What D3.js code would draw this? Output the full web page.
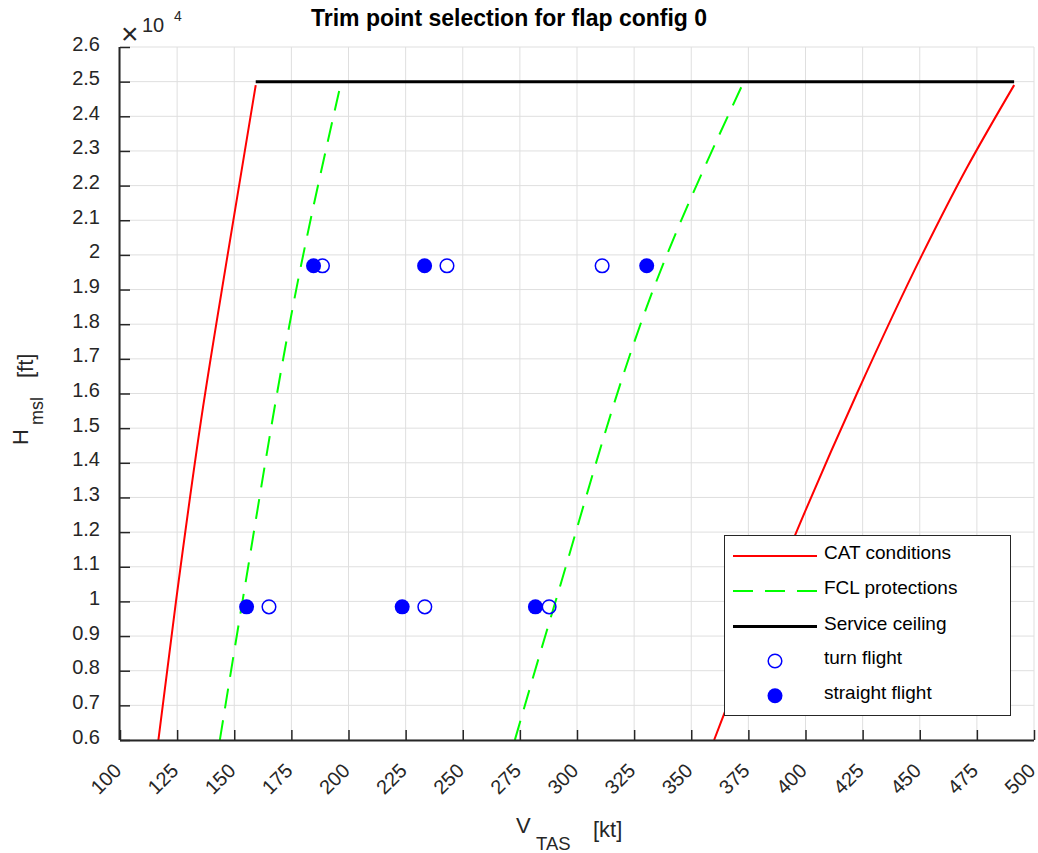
<!DOCTYPE html>
<html>
<head>
<meta charset="utf-8">
<script src="https://cdn.jsdelivr.net/npm/d3@7"></script>
<style>
  body { margin: 0; background: #fff; }
  svg { display: block; }
  text { font-family: "Liberation Sans", Arial, Helvetica, sans-serif; }
</style>
</head>
<body>
<svg id="chart" width="1038" height="853"></svg>
<script>
// Axis ticks
const xTicks = [100, 125, 150, 175, 200, 225, 250, 275, 300, 325, 350, 375, 400, 425, 450, 475, 500];
const yTicks = [6000, 7000, 8000, 9000, 10000, 11000, 12000, 13000, 14000, 15000, 16000,
                17000, 18000, 19000, 20000, 21000, 22000, 23000, 24000, 25000, 26000];

// CAT conditions boundaries (V_TAS [kt] vs H_msl [ft])
const catLowV  = [116.8, 124.5, 136.3, 147.1, 159.4];
const catLowH  = [6000, 10000, 15590, 20000, 24900];
const catHighV = [360.0, 396.0, 422.5, 451.0, 470.5, 491.3];
const catHighH = [6000, 12000, 16000, 20000, 22500, 24900];

// FCL protection boundaries
const fclLowV  = [143.7, 153.2, 179.2, 196.5];
const fclLowH  = [6000, 9843, 19685, 24900];
const fclHighV = [272.8, 289.9, 337.4, 372.3];
const fclHighH = [6000, 9843, 19685, 24900];

// Service ceiling
const ceilV = [159.4, 491.3];
const ceilH = [25000, 25000];

// Trim points
const turnV     = [165.2, 233.4, 287.8, 188.6, 243.1, 311.0];
const turnH     = [9843, 9843, 9843, 19685, 19685, 19685];
const straightV = [155.4, 223.5, 281.8, 184.7, 233.3, 330.5];
const straightH = [9843, 9843, 9843, 19685, 19685, 19685];

const legendLabels = ["CAT conditions", "FCL protections", "Service ceiling", "turn flight", "straight flight"];

const svg = d3.select("#chart");
const pL = 120, pR = 1034, pT = 47, pB = 740;
const x = d3.scaleLinear().domain([100, 500]).range([pL, pR]);
const y = d3.scaleLinear().domain([6000, 26000]).range([pB, pT]);
const axisCol = "#262626";

// Grid
const grid = svg.append("g");
grid.selectAll(".vg").data(xTicks).join("line")
  .attr("x1", d => x(d)).attr("x2", d => x(d))
  .attr("y1", pT).attr("y2", pB)
  .attr("stroke", "#dfdfdf").attr("stroke-width", 1);
grid.selectAll(".hg").data(yTicks).join("line")
  .attr("x1", pL).attr("x2", pR)
  .attr("y1", d => y(d)).attr("y2", d => y(d))
  .attr("stroke", "#dfdfdf").attr("stroke-width", 1);

// Data lines
svg.append("clipPath").attr("id", "plotclip")
  .append("rect").attr("x", pL).attr("y", pT).attr("width", pR - pL).attr("height", pB - pT);
const plot = svg.append("g").attr("clip-path", "url(#plotclip)");
const curve = d3.line().x(d => x(d[0])).y(d => y(d[1])).curve(d3.curveMonotoneY);
const straight = d3.line().x(d => x(d[0])).y(d => y(d[1]));
const zip = (a, b) => a.map((v, i) => [v, b[i]]);

plot.append("path").datum(zip(catLowV, catLowH)).attr("d", curve)
  .attr("fill", "none").attr("stroke", "#ff0000").attr("stroke-width", 2);
plot.append("path").datum(zip(catHighV, catHighH)).attr("d", curve)
  .attr("fill", "none").attr("stroke", "#ff0000").attr("stroke-width", 2);
plot.append("path").datum(zip(fclLowV, fclLowH)).attr("d", curve)
  .attr("fill", "none").attr("stroke", "#00ff00").attr("stroke-width", 2)
  .attr("stroke-dasharray", "20,12");
plot.append("path").datum(zip(fclHighV, fclHighH)).attr("d", curve)
  .attr("fill", "none").attr("stroke", "#00ff00").attr("stroke-width", 2)
  .attr("stroke-dasharray", "20,12");
plot.append("path").datum(zip(ceilV, ceilH)).attr("d", straight)
  .attr("fill", "none").attr("stroke", "#000000").attr("stroke-width", 3);

// Markers
plot.selectAll(".turn").data(zip(turnV, turnH)).join("circle")
  .attr("cx", d => x(d[0])).attr("cy", d => y(d[1])).attr("r", 6.8)
  .attr("fill", "none").attr("stroke", "#0000ff").attr("stroke-width", 1.5);
plot.selectAll(".straight").data(zip(straightV, straightH)).join("circle")
  .attr("cx", d => x(d[0])).attr("cy", d => y(d[1])).attr("r", 7.5)
  .attr("fill", "#0000ff");

// Axes
const xAxis = d3.axisBottom(x).tickValues(xTicks).tickSize(-10).tickFormat(d3.format("d"));
const gx = svg.append("g").attr("transform", `translate(0,${pB})`).call(xAxis);
gx.select(".domain").attr("stroke", axisCol).attr("stroke-width", 2).attr("d", `M${pL},0.5H${pR}`);
gx.selectAll(".tick line").attr("stroke", axisCol).attr("stroke-width", 1.5);
gx.selectAll(".tick text")
  .attr("fill", axisCol).attr("font-size", 20)
  .attr("text-anchor", "end")
  .attr("y", 0).attr("dy", 0)
  .attr("transform", "translate(2,32) rotate(-45)");

const yAxis = d3.axisLeft(y).tickValues(yTicks).tickSize(-10)
  .tickFormat(d => String(+(d / 1e4).toFixed(1)));
const gy = svg.append("g").attr("transform", `translate(${pL},0)`).call(yAxis);
gy.select(".domain").attr("stroke", axisCol).attr("stroke-width", 2).attr("d", `M-0.5,${pT}V${pB}`);
gy.selectAll(".tick line").attr("stroke", axisCol).attr("stroke-width", 1.5);
gy.selectAll(".tick text")
  .attr("fill", axisCol).attr("font-size", 20)
  .attr("x", -20).attr("dy", "0.15em");

// Exponent label
svg.append("text").attr("x", 121).attr("y", 43.5).attr("font-size", 30).attr("font-weight", 300).attr("fill", axisCol).text("\u00d7");
svg.append("text").attr("x", 142).attr("y", 32).attr("font-size", 20).attr("fill", axisCol).text("10");
svg.append("text").attr("x", 174).attr("y", 20.5).attr("font-size", 14).attr("fill", axisCol).text("4");

// Title
svg.append("text").attr("x", 509).attr("y", 26).attr("text-anchor", "middle")
  .attr("font-size", 23).attr("font-weight", "bold").attr("fill", "#000").text("Trim point selection for flap config 0");

// X label
svg.append("text").attr("x", 516).attr("y", 833).attr("font-size", 22).attr("fill", axisCol).text("V");
svg.append("text").attr("x", 536).attr("y", 850).attr("font-size", 18.5).attr("fill", axisCol).text("TAS");
svg.append("text").attr("x", 593).attr("y", 837).attr("font-size", 22).attr("fill", axisCol).text("[kt]");

// Y label
const yl = svg.append("g");
yl.append("text").attr("transform", "translate(28,445) rotate(-90)").attr("font-size", 22).attr("fill", axisCol).text("H");
yl.append("text").attr("transform", "translate(43,425) rotate(-90)").attr("font-size", 18).attr("fill", axisCol).text("msl");
yl.append("text").attr("transform", "translate(32.5,378) rotate(-90)").attr("font-size", 22).attr("fill", axisCol).text("[ft]");

// Legend
const lg = svg.append("g");
lg.append("rect").attr("x", 724.5).attr("y", 535.5).attr("width", 286).attr("height", 180)
  .attr("fill", "#fff").attr("stroke", axisCol).attr("stroke-width", 1);
const rowY = [556, 591, 626.5, 661, 695.7];
const lineStyles = [
  { c: "#ff0000", w: 2, dash: null },
  { c: "#00ff00", w: 2, dash: "20,12" },
  { c: "#000000", w: 3, dash: null }
];
lineStyles.forEach((s, i) => {
  lg.append("line").attr("x1", 733).attr("x2", 817).attr("y1", rowY[i]).attr("y2", rowY[i])
    .attr("stroke", s.c).attr("stroke-width", s.w).attr("stroke-dasharray", s.dash);
});
lg.append("circle").attr("cx", 775).attr("cy", rowY[3]).attr("r", 6.8)
  .attr("fill", "none").attr("stroke", "#0000ff").attr("stroke-width", 1.5);
lg.append("circle").attr("cx", 775).attr("cy", rowY[4]).attr("r", 7.5).attr("fill", "#0000ff");
legendLabels.forEach((t, i) => {
  lg.append("text").attr("x", 824).attr("y", rowY[i] + 3).attr("font-size", 19).attr("fill", "#000").text(t);
});
</script>
</body>
</html>
